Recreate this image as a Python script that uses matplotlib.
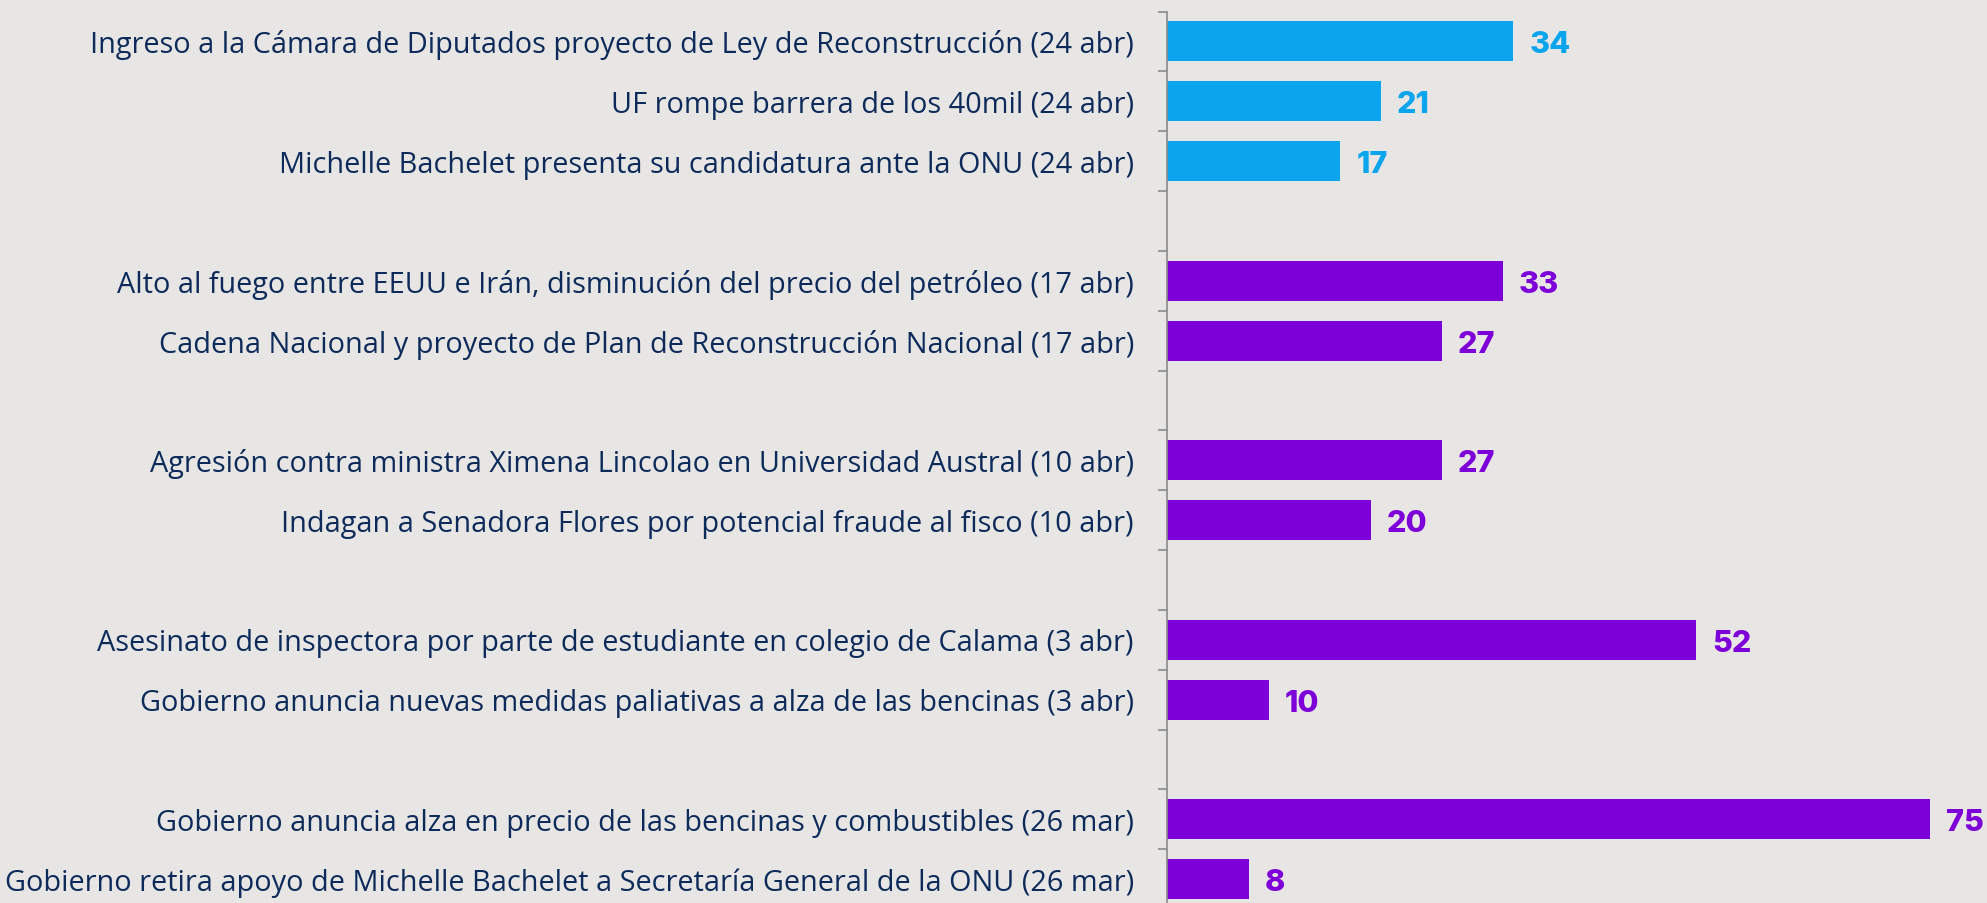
import matplotlib
matplotlib.use('Agg')
import matplotlib.pyplot as plt
import numpy as np

# events grouped by week, top to bottom
group_labels = [
    ["Ingreso a la Cámara de Diputados proyecto de Ley de Reconstrucción (24 abr)",
     "UF rompe barrera de los 40mil (24 abr)",
     "Michelle Bachelet presenta su candidatura ante la ONU (24 abr)"],
    ["Alto al fuego entre EEUU e Irán, disminución del precio del petróleo (17 abr)",
     "Cadena Nacional y proyecto de Plan de Reconstrucción Nacional (17 abr)"],
    ["Agresión contra ministra Ximena Lincolao en Universidad Austral (10 abr)",
     "Indagan a Senadora Flores por potencial fraude al fisco (10 abr)"],
    ["Asesinato de inspectora por parte de estudiante en colegio de Calama (3 abr)",
     "Gobierno anuncia nuevas medidas paliativas a alza de las bencinas (3 abr)"],
    ["Gobierno anuncia alza en precio de las bencinas y combustibles (26 mar)",
     "Gobierno retira apoyo de Michelle Bachelet a Secretaría General de la ONU (26 mar)"],
]
group_values = [
    [34, 21, 17],
    [33, 27],
    [27, 20],
    [52, 10],
    [75, 8],
]
group_colors = ['#0aa5ec', '#7e00d8', '#7e00d8', '#7e00d8', '#7e00d8']

BG = '#e8e6e4'
NAVY = '#0d2b5a'

# lay out rows with one empty row between groups
labels, values, colors, rows = [], [], [], []
r = 0
for g, (labs, vals) in enumerate(zip(group_labels, group_values)):
    for lab, val in zip(labs, vals):
        labels.append(lab)
        values.append(val)
        colors.append(group_colors[g])
        rows.append(r)
        r += 1
    r += 1
n_rows = r - 1

fig = plt.figure(figsize=(19.875, 9.035), dpi=100)
fig.patch.set_facecolor(BG)
ax = fig.add_axes([1167 / 1987, -6 / 903, 80 * 10.17 / 1987, 897 / 903])
ax.set_facecolor(BG)

bars = ax.barh(rows, values, height=0.67, color=colors)
for b, v, c in zip(bars.patches, values, colors):
    ax.annotate(str(v), xy=(b.get_width(), b.get_y() + b.get_height() / 2),
                xytext=(11.5, -2.5), textcoords='offset points', va='center', ha='left',
                fontsize=22, fontweight='heavy', color=c, family='Inter')

ax.set_xlim(0, 80)
ax.set_ylim(n_rows - 0.5, -0.5)

ax.set_yticks(rows)
ax.set_yticklabels(labels, fontsize=20.8, color=NAVY, family='Open Sans')
ax.tick_params(axis='y', which='major', length=0, pad=24)
ax.set_yticks(np.arange(-0.5, n_rows, 1.0), minor=True)
ax.tick_params(axis='y', which='minor', length=6.5, width=1.2, color='#8a8a8a')

ax.set_xticks([])
for s in ['top', 'right', 'bottom']:
    ax.spines[s].set_visible(False)
ax.spines['left'].set_color('#8a8a8a')
ax.spines['left'].set_linewidth(1.2)

fig.savefig('out.png', dpi=100, facecolor=BG)
